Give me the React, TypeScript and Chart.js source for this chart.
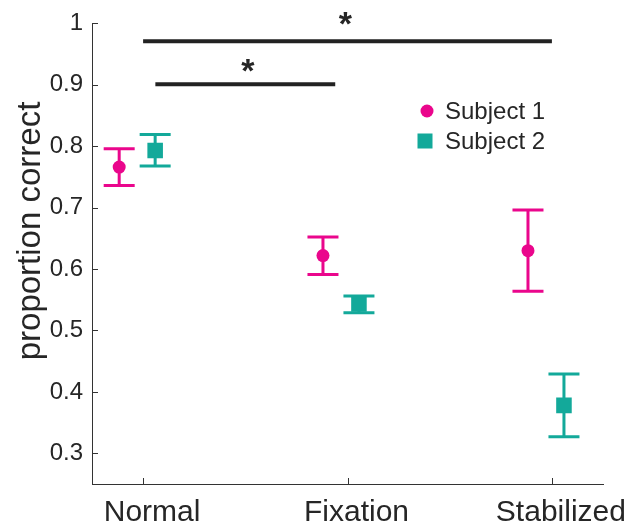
import React, { useEffect, useRef } from 'react';
import { Chart, registerables } from 'chart.js';

Chart.register(...registerables);

// ---- data ----
const categories = ['Normal', 'Fixation', 'Stabilized'];
const categoryTicks = [1, 2, 3];
const yTickValues = [0.3, 0.4, 0.5, 0.6, 0.7, 0.8, 0.9, 1];

const subject1X = [0.883, 1.88, 2.883];
const subject1Mean = [0.766, 0.622, 0.63];
const subject1Low = [0.736, 0.591, 0.564];
const subject1High = [0.796, 0.652, 0.696];

const subject2X = [1.059, 2.056, 3.059];
const subject2Mean = [0.793, 0.543, 0.378];
const subject2Low = [0.768, 0.529, 0.327];
const subject2High = [0.819, 0.556, 0.429];

const sigLongX = [1.0, 3.0];
const sigLongY = 0.971;
const sigShortX = [1.06, 1.94];
const sigShortY = 0.901;
const starX = [1.99, 1.513];
const starY = [0.997, 0.92];

const PINK = '#ea068c';
const TEAL = '#13a99a';
const INK = '#262626';
const FONT = '"Liberation Sans", Arial, Helvetica, sans-serif';

const errorBarPlugin = {
  id: 'errorBars',
  beforeDatasetsDraw(chart: any) {
    const { ctx } = chart;
    const x = chart.scales.x;
    const y = chart.scales.y;
    chart.data.datasets.forEach((ds: any) => {
      if (!ds.errLow) return;
      ctx.save();
      ctx.strokeStyle = ds.backgroundColor;
      ctx.lineWidth = 3;
      ds.data.forEach((pt: any, i: number) => {
        const px = x.getPixelForValue(pt.x);
        const pl = y.getPixelForValue(ds.errLow[i]);
        const ph = y.getPixelForValue(ds.errHigh[i]);
        const hw = 15.5;
        ctx.beginPath();
        ctx.moveTo(px, pl);
        ctx.lineTo(px, ph);
        ctx.moveTo(px - hw, pl);
        ctx.lineTo(px + hw, pl);
        ctx.moveTo(px - hw, ph);
        ctx.lineTo(px + hw, ph);
        ctx.stroke();
      });
      ctx.restore();
    });
  },
};

const decorPlugin = {
  id: 'decor',
  afterDraw(chart: any) {
    const { ctx, chartArea } = chart;
    const x = chart.scales.x;
    const y = chart.scales.y;
    ctx.save();
    // inward tick marks
    ctx.strokeStyle = '#333333';
    ctx.lineWidth = 1;
    ctx.beginPath();
    y.ticks.forEach((t: any) => {
      const py = Math.round(y.getPixelForValue(t.value)) + 0.5;
      ctx.moveTo(chartArea.left, py);
      ctx.lineTo(chartArea.left + 6, py);
    });
    x.ticks.forEach((t: any) => {
      const px = Math.round(x.getPixelForValue(t.value)) + 0.5;
      ctx.moveTo(px, chartArea.bottom);
      ctx.lineTo(px, chartArea.bottom - 6);
    });
    ctx.stroke();

    // significance stars
    ctx.fillStyle = INK;
    ctx.font = `bold 34px ${FONT}`;
    ctx.textAlign = 'center';
    ctx.textBaseline = 'middle';
    starX.forEach((sx, i) => {
      ctx.fillText('*', x.getPixelForValue(sx), y.getPixelForValue(starY[i]));
    });

    // y axis title
    ctx.save();
    ctx.translate(31, 231);
    ctx.rotate(-Math.PI / 2);
    ctx.font = `33px ${FONT}`;
    ctx.textBaseline = 'middle';
    ctx.textAlign = 'center';
    ctx.fillText('proportion correct', 0, 0);
    ctx.restore();

    // legend
    const items = chart.data.datasets.filter((d: any) => d.errLow);
    items.forEach((ds: any, i: number) => {
      const cy = 111 + i * 30;
      const cx = 425;
      ctx.fillStyle = ds.backgroundColor;
      if (ds.pointStyle === 'circle') {
        ctx.beginPath();
        ctx.arc(cx + 2, cy, 6.5, 0, Math.PI * 2);
        ctx.fill();
      } else {
        ctx.fillRect(cx - 7.5, cy - 7.5, 15, 15);
      }
      ctx.fillStyle = INK;
      ctx.font = `24px ${FONT}`;
      ctx.textAlign = 'left';
      ctx.textBaseline = 'middle';
      ctx.fillText(ds.label, 445, cy + 1);
    });
    ctx.restore();
  },
};

export default function App() {
  const ref = useRef<HTMLCanvasElement>(null);

  useEffect(() => {
    if (!ref.current) return;
    const chart = new Chart(ref.current, {
      type: 'scatter',
      data: {
        datasets: [
          {
            label: 'Subject 1',
            data: subject1X.map((xv, i) => ({ x: xv, y: subject1Mean[i] })),
            errLow: subject1Low,
            errHigh: subject1High,
            backgroundColor: PINK,
            borderColor: PINK,
            borderWidth: 0,
            pointStyle: 'circle',
            pointRadius: 6.5,
          } as any,
          {
            label: 'Subject 2',
            data: subject2X.map((xv, i) => ({ x: xv, y: subject2Mean[i] })),
            errLow: subject2Low,
            errHigh: subject2High,
            backgroundColor: TEAL,
            borderColor: TEAL,
            borderWidth: 0,
            pointStyle: 'rect',
            pointRadius: 11,
          } as any,
          {
            label: 'sig long',
            data: sigLongX.map((xv) => ({ x: xv, y: sigLongY })),
            showLine: true,
            borderColor: '#222222',
            backgroundColor: '#222222',
            borderWidth: 4,
            pointRadius: 0,
          } as any,
          {
            label: 'sig short',
            data: sigShortX.map((xv) => ({ x: xv, y: sigShortY })),
            showLine: true,
            borderColor: '#222222',
            backgroundColor: '#222222',
            borderWidth: 4,
            pointRadius: 0,
          } as any,
        ],
      },
      options: {
        responsive: false,
        animation: false,
        devicePixelRatio: 1,
        layout: { padding: { left: 0, top: 16, right: 28, bottom: 0 } },
        plugins: {
          legend: { display: false },
          tooltip: { enabled: false },
        },
        scales: {
          x: {
            type: 'linear',
            min: 0.75,
            max: 3.25,
            grid: { display: false, drawTicks: false },
            border: { display: true, color: '#333333', width: 1 },
            afterBuildTicks: (s: any) => {
              s.ticks = categoryTicks.map((v) => ({ value: v }));
            },
            afterFit: (s: any) => {
              s.height = 43;
            },
            ticks: {
              callback: (v: any) => categories[categoryTicks.indexOf(Number(v))] ?? '',
              color: INK,
              font: { family: FONT, size: 30 },
              padding: 11,
              labelOffset: 9,
              maxRotation: 0,
              autoSkip: false,
            },
          },
          y: {
            type: 'linear',
            min: 0.25,
            max: 1,
            grid: { display: false, drawTicks: false },
            border: { display: true, color: '#333333', width: 1 },
            afterBuildTicks: (s: any) => {
              s.ticks = yTickValues.map((v) => ({ value: v }));
            },
            afterFit: (s: any) => {
              s.width = 92;
            },
            ticks: {
              callback: (v: any) => String(Number(Number(v).toFixed(1))),
              color: INK,
              font: { family: FONT, size: 24 },
              padding: 9,
            },
          },
        },
      },
      plugins: [errorBarPlugin, decorPlugin],
    });
    return () => chart.destroy();
  }, []);

  return (
    <div style={{ position: 'fixed', left: 0, top: 0, width: 631, height: 527, background: '#fff' }}>
      <canvas ref={ref} width={631} height={527} style={{ display: 'block' }} />
    </div>
  );
}
